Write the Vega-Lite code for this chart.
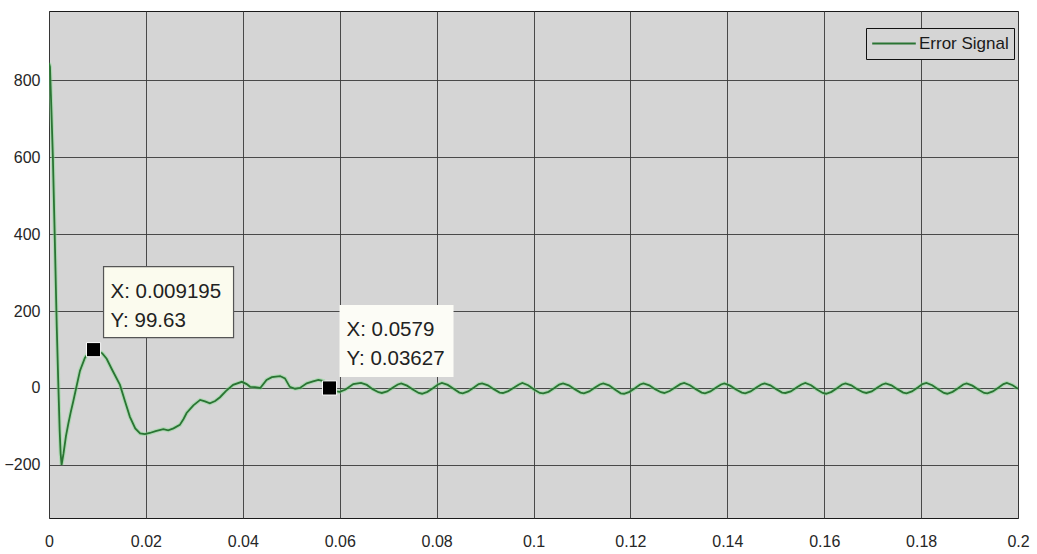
{
  "$schema": "https://vega.github.io/schema/vega-lite/v6.json",
  "width": 969,
  "height": 507,
  "autosize": {"type": "none"},
  "padding": {"left": 49, "top": 11, "right": 19, "bottom": 36},
  "background": "white",
  "config": {
    "view": {"fill": "#d5d5d5", "stroke": "#1a1a1a", "strokeWidth": 1},
    "font": "Liberation Sans",
    "axis": {
      "domain": false,
      "ticks": false,
      "grid": true,
      "gridColor": "#3a3a3a",
      "gridWidth": 1,
      "gridOpacity": 0.9,
      "labelColor": "#262626",
      "labelFont": "Liberation Sans Narrow, Liberation Sans",
      "labelFontSize": 16,
      "title": null
    }
  },
  "datasets": {
    "signal": [
      {"t": 0, "v": 845}, {"t": 0.0002, "v": 835}, {"t": 0.0005, "v": 720}, {"t": 0.0008, "v": 600},
      {"t": 0.0012, "v": 385}, {"t": 0.0016, "v": 160}, {"t": 0.0019, "v": 20}, {"t": 0.0022, "v": -110},
      {"t": 0.0024, "v": -170}, {"t": 0.0026, "v": -200}, {"t": 0.003, "v": -170}, {"t": 0.0035, "v": -125},
      {"t": 0.004, "v": -92}, {"t": 0.0045, "v": -62}, {"t": 0.005, "v": -35}, {"t": 0.0057, "v": 5},
      {"t": 0.0064, "v": 45}, {"t": 0.0074, "v": 78}, {"t": 0.0083, "v": 94}, {"t": 0.009195, "v": 99.63},
      {"t": 0.0101, "v": 97}, {"t": 0.011, "v": 90}, {"t": 0.0119, "v": 76}, {"t": 0.013, "v": 48},
      {"t": 0.01465, "v": 8}, {"t": 0.0157, "v": -35}, {"t": 0.0167, "v": -75}, {"t": 0.0178, "v": -105},
      {"t": 0.0188, "v": -118}, {"t": 0.0198, "v": -120}, {"t": 0.0208, "v": -117}, {"t": 0.022, "v": -112},
      {"t": 0.0236, "v": -107}, {"t": 0.0246, "v": -110}, {"t": 0.0257, "v": -105}, {"t": 0.027, "v": -96},
      {"t": 0.0278, "v": -80}, {"t": 0.0284, "v": -65}, {"t": 0.0298, "v": -45}, {"t": 0.0312, "v": -31},
      {"t": 0.0322, "v": -35}, {"t": 0.0332, "v": -40}, {"t": 0.0343, "v": -34}, {"t": 0.0353, "v": -24},
      {"t": 0.0365, "v": -8}, {"t": 0.038, "v": 8}, {"t": 0.0398, "v": 16}, {"t": 0.0408, "v": 10},
      {"t": 0.0415, "v": 3}, {"t": 0.0425, "v": 2}, {"t": 0.0436, "v": 0}, {"t": 0.0449, "v": 21},
      {"t": 0.046, "v": 28}, {"t": 0.0477, "v": 31}, {"t": 0.0487, "v": 25}, {"t": 0.0497, "v": 3},
      {"t": 0.0508, "v": -2}, {"t": 0.0518, "v": 0}, {"t": 0.0532, "v": 12}, {"t": 0.0545, "v": 17},
      {"t": 0.0556, "v": 21}, {"t": 0.0567, "v": 18}, {"t": 0.0579, "v": 0.03627}, {"t": 0.059, "v": -8},
      {"t": 0.06, "v": -10}, {"t": 0.0612, "v": -4}, {"t": 0.0628, "v": 10},
      {"t": 0.0644, "v": 13}, {"t": 0.0656, "v": 8}, {"t": 0.0668, "v": -3}, {"t": 0.068, "v": -11}, {"t": 0.0687, "v": -13}, {"t": 0.0698, "v": -9}, {"t": 0.071, "v": 1}, {"t": 0.072, "v": 9},
      {"t": 0.0727, "v": 12}, {"t": 0.0739, "v": 6}, {"t": 0.0751, "v": -4}, {"t": 0.0763, "v": -13}, {"t": 0.077, "v": -15}, {"t": 0.0781, "v": -10}, {"t": 0.0793, "v": 0}, {"t": 0.0803, "v": 9},
      {"t": 0.0811, "v": 13}, {"t": 0.0823, "v": 8}, {"t": 0.0835, "v": -2}, {"t": 0.0847, "v": -12}, {"t": 0.0854, "v": -14}, {"t": 0.0865, "v": -9}, {"t": 0.0877, "v": 1}, {"t": 0.0887, "v": 10},
      {"t": 0.0894, "v": 12}, {"t": 0.0906, "v": 7}, {"t": 0.0918, "v": -3}, {"t": 0.093, "v": -12}, {"t": 0.0937, "v": -13}, {"t": 0.0948, "v": -8}, {"t": 0.096, "v": 1}, {"t": 0.097, "v": 9},
      {"t": 0.0977, "v": 13}, {"t": 0.0989, "v": 7}, {"t": 0.1001, "v": -4}, {"t": 0.1013, "v": -13}, {"t": 0.102, "v": -14}, {"t": 0.1031, "v": -10}, {"t": 0.1043, "v": 0}, {"t": 0.1053, "v": 9},
      {"t": 0.1061, "v": 12}, {"t": 0.1073, "v": 7}, {"t": 0.1085, "v": -3}, {"t": 0.1097, "v": -12}, {"t": 0.1104, "v": -14}, {"t": 0.1115, "v": -9}, {"t": 0.1127, "v": 1}, {"t": 0.1137, "v": 9},
      {"t": 0.1144, "v": 12}, {"t": 0.1156, "v": 7}, {"t": 0.1168, "v": -4}, {"t": 0.118, "v": -14}, {"t": 0.1187, "v": -15}, {"t": 0.1198, "v": -10}, {"t": 0.121, "v": 0}, {"t": 0.122, "v": 9},
      {"t": 0.1227, "v": 12}, {"t": 0.1239, "v": 7}, {"t": 0.1251, "v": -3}, {"t": 0.1263, "v": -11}, {"t": 0.127, "v": -13}, {"t": 0.1281, "v": -8}, {"t": 0.1293, "v": 2}, {"t": 0.1303, "v": 10},
      {"t": 0.1311, "v": 13}, {"t": 0.1323, "v": 7}, {"t": 0.1335, "v": -3}, {"t": 0.1347, "v": -12}, {"t": 0.1354, "v": -14}, {"t": 0.1365, "v": -9}, {"t": 0.1377, "v": 1}, {"t": 0.1387, "v": 9},
      {"t": 0.1394, "v": 12}, {"t": 0.1406, "v": 6}, {"t": 0.1418, "v": -4}, {"t": 0.143, "v": -12}, {"t": 0.1437, "v": -14}, {"t": 0.1448, "v": -9}, {"t": 0.146, "v": 1}, {"t": 0.147, "v": 9},
      {"t": 0.1477, "v": 12}, {"t": 0.1489, "v": 7}, {"t": 0.1501, "v": -3}, {"t": 0.1513, "v": -12}, {"t": 0.152, "v": -13}, {"t": 0.1531, "v": -9}, {"t": 0.1543, "v": 1}, {"t": 0.1553, "v": 9},
      {"t": 0.1561, "v": 13}, {"t": 0.1573, "v": 7}, {"t": 0.1585, "v": -4}, {"t": 0.1597, "v": -13}, {"t": 0.1604, "v": -15}, {"t": 0.1615, "v": -10}, {"t": 0.1627, "v": 0}, {"t": 0.1637, "v": 9},
      {"t": 0.1644, "v": 12}, {"t": 0.1656, "v": 7}, {"t": 0.1668, "v": -3}, {"t": 0.168, "v": -11}, {"t": 0.1687, "v": -13}, {"t": 0.1698, "v": -9}, {"t": 0.171, "v": 1}, {"t": 0.172, "v": 9},
      {"t": 0.1727, "v": 12}, {"t": 0.1739, "v": 7}, {"t": 0.1751, "v": -3}, {"t": 0.1763, "v": -12}, {"t": 0.177, "v": -14}, {"t": 0.1781, "v": -9}, {"t": 0.1793, "v": 1}, {"t": 0.1803, "v": 10},
      {"t": 0.1811, "v": 13}, {"t": 0.1823, "v": 7}, {"t": 0.1835, "v": -3}, {"t": 0.1847, "v": -13}, {"t": 0.1854, "v": -15}, {"t": 0.1865, "v": -10}, {"t": 0.1877, "v": 0}, {"t": 0.1887, "v": 9},
      {"t": 0.1894, "v": 12}, {"t": 0.1906, "v": 6}, {"t": 0.1918, "v": -4}, {"t": 0.193, "v": -13}, {"t": 0.1937, "v": -14}, {"t": 0.1948, "v": -9}, {"t": 0.196, "v": 1}, {"t": 0.197, "v": 10},
      {"t": 0.1977, "v": 13}, {"t": 0.1989, "v": 7}, {"t": 0.2, "v": -2}
    ],
    "tips": [
      {"t": 0.009195, "v": 99.63, "id": 1, "lx": "X: 0.009195", "ly": "Y: 99.63"},
      {"t": 0.0579, "v": 0.03627, "id": 2, "lx": "X: 0.0579", "ly": "Y: 0.03627"}
    ]
  },
  "encoding": {
    "x": {
      "field": "t", "type": "quantitative",
      "scale": {"domain": [0, 0.2], "nice": false, "zero": false},
      "axis": {"values": [0, 0.02, 0.04, 0.06, 0.08, 0.1, 0.12, 0.14, 0.16, 0.18, 0.2], "format": "~g", "labelPadding": 15, "labelFlush": false}
    },
    "y": {
      "field": "v", "type": "quantitative",
      "scale": {"domain": [-338, 980], "nice": false, "zero": false},
      "axis": {"values": [-200, 0, 200, 400, 600, 800], "format": "d", "labelPadding": 9}
    }
  },
  "layer": [
    {
      "data": {"name": "signal"},
      "mark": {"type": "line", "color": "#7fdc8a", "strokeWidth": 4, "opacity": 0.45, "clip": true},
      "encoding": {}
    },
    {
      "data": {"name": "signal"},
      "mark": {"type": "line", "strokeWidth": 1.8, "clip": true},
      "encoding": {
        "color": {
          "datum": "Error Signal",
          "scale": {"range": ["#2a7433"]},
          "legend": {
            "title": null,
            "orient": "none",
            "legendX": 817,
            "legendY": 17,
            "fillColor": "#d5d5d5",
            "strokeColor": "#111111",
            "padding": 5,
            "symbolType": "stroke",
            "symbolSize": 1900,
            "symbolStrokeWidth": 2,
            "clipHeight": 21,
            "labelFontSize": 17,
            "labelFont": "Liberation Sans",
            "labelColor": "#1a1a1a",
            "labelOffset": 2
          }
        }
      }
    },
    {
      "data": {"name": "tips"},
      "transform": [{"filter": "datum.id == 1"}],
      "mark": {"type": "rect", "fill": "#fbfbee", "stroke": "#555555", "strokeWidth": 1.2, "xOffset": 10, "x2Offset": 140, "yOffset": -83, "y2Offset": -12},
      "encoding": {"x2": {"field": "t"}, "y2": {"field": "v"}}
    },
    {
      "data": {"name": "tips"},
      "transform": [{"filter": "datum.id == 2"}],
      "mark": {"type": "rect", "fill": "#fcfcf6", "xOffset": 10, "x2Offset": 124, "yOffset": -83, "y2Offset": -11},
      "encoding": {"x2": {"field": "t"}, "y2": {"field": "v"}}
    },
    {
      "data": {"name": "tips"},
      "mark": {"type": "text", "align": "left", "baseline": "middle", "dx": 17, "dy": -58, "fontSize": 20.5, "font": "Liberation Sans", "color": "#222222"},
      "encoding": {"text": {"field": "lx"}}
    },
    {
      "data": {"name": "tips"},
      "mark": {"type": "text", "align": "left", "baseline": "middle", "dx": 17, "dy": -29, "fontSize": 20.5, "font": "Liberation Sans", "color": "#222222"},
      "encoding": {"text": {"field": "ly"}}
    },
    {
      "data": {"name": "tips"},
      "mark": {"type": "point", "shape": "square", "size": 200, "filled": true, "fill": "#000000", "stroke": "#ffffff", "strokeWidth": 1, "opacity": 1},
      "encoding": {}
    }
  ]
}
